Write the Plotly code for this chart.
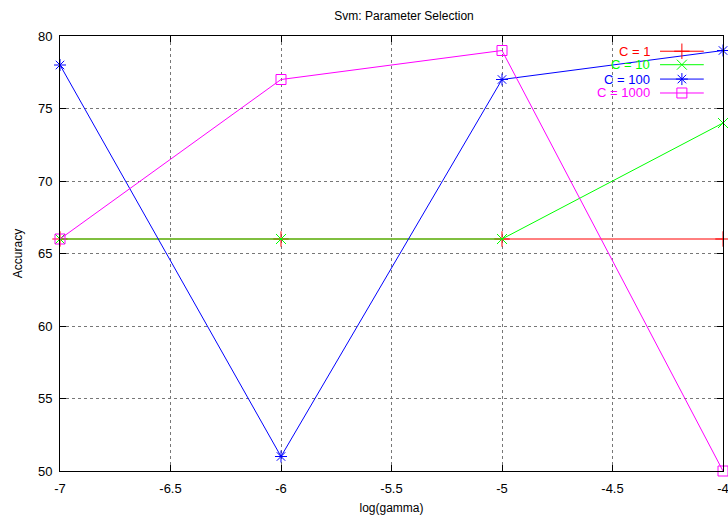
import plotly.graph_objects as go

log_gamma = [-7, -6, -5, -4]
series_names = ["C = 1", "C = 10", "C = 100", "C = 1000"]
acc_c1 = [66, 66, 66, 66]
acc_c10 = [66, 66, 66, 74]
acc_c100 = [78, 51, 77, 79]
acc_c1000 = [66, 77, 79, 50]
x_ticks = [-7, -6.5, -6, -5.5, -5, -4.5, -4]
y_ticks = [50, 55, 60, 65, 70, 75, 80]

colors = ["#ff0000", "#00ff00", "#0000ff", "#ff00ff"]
symbols = ["cross-thin-open", "x-thin-open", "asterisk-open", "square-open"]
sizes = [11, 10, 10, 10]
all_series = [acc_c1, acc_c10, acc_c100, acc_c1000]

fig = go.Figure()
for name, ys, col, sym, sz in zip(series_names, all_series, colors, symbols, sizes):
    fig.add_trace(go.Scatter(
        x=log_gamma, y=ys, mode="lines+markers", name=name,
        line=dict(color=col, width=1),
        marker=dict(symbol=sym, size=sz, color=col, line=dict(color=col, width=1)),
        cliponaxis=False, showlegend=False))

# gnuplot-style key (text right-aligned, sample to the right)
row_y = [0.965, 0.934, 0.901, 0.869]
for i, (name, col, sym, sz) in enumerate(zip(series_names, colors, symbols, sizes)):
    fig.add_annotation(x=0.893, y=row_y[i], xref="paper", yref="paper", text=name,
                       showarrow=False, xanchor="right", yanchor="middle",
                       font=dict(color=col, size=13, family="Liberation Sans, Arial, sans-serif"))
    fig.add_trace(go.Scatter(
        x=[0.905, 0.938, 0.971], y=[row_y[i]] * 3, xaxis="x2", yaxis="y2",
        mode="lines", line=dict(color=col, width=1), showlegend=False, hoverinfo="skip"))
    fig.add_trace(go.Scatter(
        x=[0.938], y=[row_y[i]], xaxis="x2", yaxis="y2", mode="markers",
        marker=dict(symbol=sym, size=sz, color=col, line=dict(color=col, width=1)),
        showlegend=False, hoverinfo="skip"))

axis_common = dict(showline=True, linecolor="black", linewidth=1, mirror="ticks",
                   ticks="inside", ticklen=6, tickcolor="black",
                   showgrid=True, gridcolor="#777777", griddash="dot", gridwidth=1,
                   zeroline=False, automargin=False, ticklabeloverflow="allow",
                   tickfont=dict(size=13, color="black", family="Liberation Sans, Arial, sans-serif"))

fig.update_layout(
    width=728, height=515,
    margin=dict(l=60, r=5, t=36, b=44),
    paper_bgcolor="white", plot_bgcolor="white",
    font=dict(family="Liberation Sans, Arial, sans-serif", size=12, color="black"),
    title=dict(text="Svm: Parameter Selection", x=0.555, xanchor="center", y=0.969, yanchor="middle",
               font=dict(size=12, color="black")),
    xaxis=dict(range=[-7, -4], tickvals=x_ticks, ticktext=[f"{v:g}" for v in x_ticks],
               ticklabelstandoff=5,
               title=dict(text="log(gamma)", standoff=9, font=dict(size=12)), **axis_common),
    yaxis=dict(range=[50, 80], tickvals=y_ticks, ticklabelstandoff=4,
               title=dict(text="Accuracy", standoff=12, font=dict(size=12)),
               **axis_common),
    xaxis2=dict(range=[0, 1], overlaying="x", visible=False, fixedrange=True),
    yaxis2=dict(range=[0, 1], overlaying="y", visible=False, fixedrange=True),
)

fig.write_html("out.html", config={"displayModeBar": False},
               post_script="document.body.style.margin='0';document.body.style.overflow='hidden';")
